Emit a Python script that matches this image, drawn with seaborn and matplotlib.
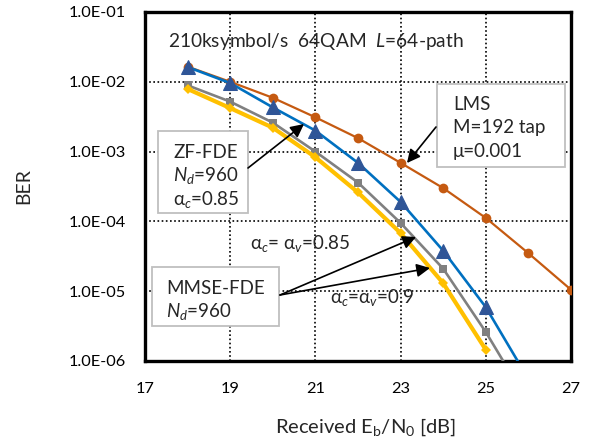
import numpy as np
import matplotlib
matplotlib.use("Agg")
import matplotlib.pyplot as plt
import matplotlib.ticker as mticker
from matplotlib.patches import Rectangle
import seaborn as sns

sns.set_style("white")
plt.rcParams['font.family'] = ['Lato', 'DejaVu Sans']
plt.rcParams['mathtext.fontset'] = 'custom'
plt.rcParams['mathtext.rm'] = 'Lato'
plt.rcParams['mathtext.it'] = 'Lato:italic'

# data (BER vs received Eb/N0)
snr_lms = [18, 19, 20, 21, 22, 23, 24, 25, 26, 27]
ber_lms = [1.65e-2, 1.0e-2, 5.9e-3, 3.1e-3, 1.56e-3, 6.9e-4, 3.0e-4, 1.12e-4, 3.5e-5, 1.05e-5]

snr_zf = [18, 19, 20, 21, 22, 23, 24, 25, 26]
ber_zf = [1.63e-2, 9.6e-3, 4.3e-3, 2.0e-3, 6.9e-4, 1.9e-4, 3.8e-5, 5.9e-6, 5.5e-7]

snr_mmse85 = [18, 19, 20, 21, 22, 23, 24, 25, 26]
ber_mmse85 = [8.9e-3, 5.2e-3, 2.6e-3, 1.0e-3, 3.6e-4, 9.5e-5, 2.1e-5, 2.6e-6, 2.5e-7]

snr_mmse90 = [18, 19, 20, 21, 22, 23, 24, 25]
ber_mmse90 = [7.9e-3, 4.2e-3, 2.2e-3, 8.3e-4, 2.6e-4, 6.8e-5, 1.3e-5, 1.45e-6]

xticks = [17, 19, 21, 23, 25, 27]
yticks = [1e-6, 1e-5, 1e-4, 1e-3, 1e-2, 1e-1]

W, H = 592, 441
fig = plt.figure(figsize=(W / 100, H / 100), dpi=100)
L, R, T, B = 145, 571, 12, 361
ax = fig.add_axes([L / W, (H - B) / H, (R - L) / W, (B - T) / H])

sns.lineplot(x=snr_lms, y=ber_lms, ax=ax, color='#C55A11', lw=1.6,
             marker='o', markersize=7, markeredgewidth=0, zorder=3)
sns.lineplot(x=snr_zf, y=ber_zf, ax=ax, color='#0070C0', lw=1.9,
             marker='^', markersize=9.5, markerfacecolor='#2F5597',
             markeredgecolor='#2F5597', zorder=4)
sns.lineplot(x=snr_mmse85, y=ber_mmse85, ax=ax, color='#808080', lw=1.9,
             marker='s', markersize=6, markeredgewidth=0, zorder=5)
sns.lineplot(x=snr_mmse90, y=ber_mmse90, ax=ax, color='#FFC000', lw=3.0,
             marker='D', markersize=5.5, markeredgewidth=0, zorder=6)

ax.set_yscale('log')
ax.set_xlim(17, 27)
ax.set_ylim(1e-6, 1e-1)
ax.set_xticks(xticks)
ax.set_yticks(yticks)
ax.yaxis.set_minor_locator(mticker.NullLocator())
ax.yaxis.set_major_formatter(mticker.FuncFormatter(lambda v, p: f"{v:.1E}"))
ax.tick_params(axis='both', length=0, labelsize=11.8, colors='black')
ax.tick_params(axis='y', pad=14)
ax.tick_params(axis='x', pad=15)
ax.grid(True, which='major', color='black', linestyle=(0, (1, 1.5)), lw=1.2)
for s in ax.spines.values():
    s.set_visible(True)
    s.set_color('black')
    s.set_linewidth(2.4)

ax.set_xlabel(r"Received E$_\mathrm{b}$/N$_\mathrm{0}$ [dB]", fontsize=14.5)
ax.set_ylabel("BER", fontsize=14)
ax.xaxis.set_label_coords(0.519, -0.16)
ax.yaxis.set_label_coords(-0.265, 0.5)


def fr(px, py):
    return ((px - L) / (R - L), (B - py) / (B - T))


def txt(px, py, s, size=13.5):
    ax.text(*fr(px, py), s, transform=ax.transAxes, fontsize=size,
            ha='left', va='center', zorder=10)


def box(x0, y0, x1, y1):
    fx0, fy1 = fr(x0, y1)
    fx1, fy0 = fr(x1, y0)
    ax.add_patch(Rectangle((fx0, fy1), fx1 - fx0, fy0 - fy1, transform=ax.transAxes,
                           facecolor='white', edgecolor='#bfbfbf', lw=1.3, zorder=9))


def arrow(tail, head):
    ax.annotate("", xy=fr(*head), xytext=fr(*tail), xycoords='axes fraction',
                textcoords='axes fraction',
                arrowprops=dict(arrowstyle='-|>', color='black', lw=1.2,
                                mutation_scale=20, shrinkA=0, shrinkB=0), zorder=11)


txt(168, 42, "210ksymbol/s  64QAM  $L$=64-path", size=13.8)

box(437, 84, 565, 167)
txt(453, 105, "LMS")
txt(453, 128, "M=192 tap")
txt(453, 152, "μ=0.001")
arrow((436, 127), (407, 163))

box(158, 131, 248, 213)
txt(173, 152, "ZF-FDE")
txt(173, 175, "$N_d$=960")
txt(173, 199, "α$_c$=0.85")
arrow((248, 168), (304, 124))

box(152, 267, 279, 326)
txt(166, 289, "MMSE-FDE")
txt(166, 312, "$N_d$=960")
arrow((280, 295), (416, 237))
arrow((280, 295), (430, 268))

txt(250, 243, "α$_c$= α$_v$=0.85")
txt(330, 297, "α$_c$=α$_v$=0.9")

fig.savefig("out.png", dpi=100)
